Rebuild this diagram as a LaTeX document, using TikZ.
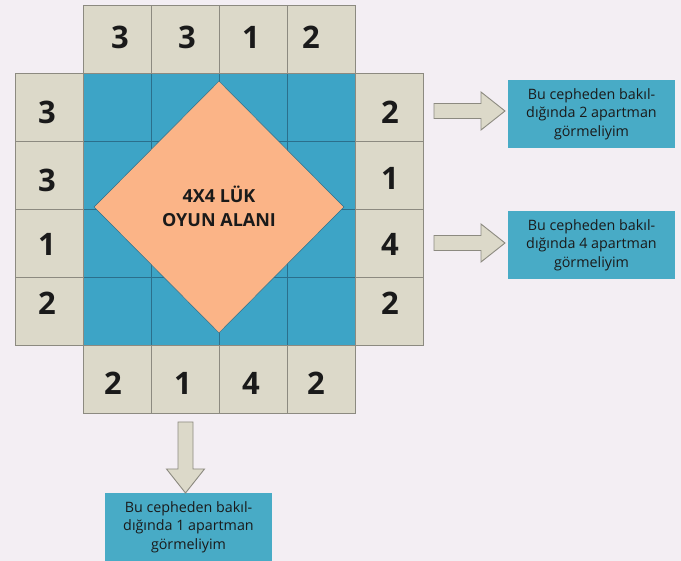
\documentclass[tikz,border=0pt]{standalone}
\usepackage{fontspec}
\setmainfont{Open Sans}
\usetikzlibrary{shapes.geometric}
\definecolor{bg}{HTML}{F3EEF3}
\definecolor{beige}{HTML}{DCD9C9}
\definecolor{cellline}{HTML}{8C8A80}
\definecolor{bluecell}{HTML}{3DA4C6}
\definecolor{blueline}{HTML}{2B6F8C}
\definecolor{peach}{HTML}{FBB487}
\definecolor{boxblue}{HTML}{48ABC6}
\definecolor{ink}{HTML}{1A1A1A}
\tikzset{
  numcell/.style={draw=cellline, fill=beige, line width=0.9pt, minimum size=68pt, inner sep=0pt},
  digit/.style={font=\fontsize{31}{33}\selectfont\bfseries, text=ink, inner sep=0pt},
  bcell/.style={draw=blueline, fill=bluecell, line width=0.7pt, minimum size=68pt, inner sep=0pt},
  infobox/.style={fill=boxblue, minimum width=167pt, minimum height=68pt, inner sep=0pt, align=center,
    font=\fontsize{14.3}{18.5}\selectfont, text=ink},
  fatarrowstyle/.style={draw=cellline, fill=beige, line width=0.9pt, line join=miter},
  pics/fatarrow/.style={code={
    \draw[fatarrowstyle] (0,-7.5) -- (47,-7.5) -- (47,-19) -- (71,0) -- (47,19) -- (47,7.5) -- (0,7.5) -- cycle;}}
}
\begin{document}
\begin{tikzpicture}[x=1pt,y=-1pt]
\fill[bg] (0,0) rectangle (681,561);
\useasboundingbox (0,0) rectangle (681,561);
% blue cells
\foreach \i in {1,...,4}{
  \foreach \j in {1,...,4}{
    \node[bcell] (b\i\j) at ({15+68*\i+34},{5+68*\j+34}) {};
  }
}
% diamond
\node[diamond, draw=blueline, line width=0.5pt, fill=peach, minimum width=250pt, minimum height=252pt, inner sep=0pt] (field) at (219,207) {};
\node[font=\fontsize{18}{24}\selectfont\bfseries, text=ink, align=center] (title) at (219,206) {4X4 LÜK\\OYUN ALANI};
% top row
\foreach \v/\dx/\dy [count=\i] in {3/3/-2,3/2/-2,1/-2/-2,2/-10/-2}{
  \node[numcell] (t\i) at ({15+68*\i+34},39) {};
  \node[digit] (tn\i) at ([xshift=\dx pt,yshift=-\dy pt]t\i.center) {\v};
}
% bottom row
\foreach \v/\dx/\dy [count=\i] in {2/-4/4,1/-2/4,4/-2/4,2/-5/4}{
  \node[numcell] (d\i) at ({15+68*\i+34},{5+68*5+34}) {};
  \node[digit] (dn\i) at ([xshift=\dx pt,yshift=-\dy pt]d\i.center) {\v};
}
% left column
\foreach \v/\dy [count=\j] in {3/5,3/5,1/1,2/-8}{
  \node[numcell] (l\j) at (49,{5+68*\j+34}) {};
  \node[digit] (ln\j) at ([xshift=-2pt,yshift=-\dy pt]l\j.center) {\v};
}
% right column
\foreach \v/\dy [count=\j] in {2/5,1/3,4/1,2/-8}{
  \node[numcell] (r\j) at ({15+68*5+34},{5+68*\j+34}) {};
  \node[digit] (rn\j) at ([xshift=1pt,yshift=-\dy pt]r\j.center) {\v};
}
% info boxes
\node[infobox] (box1) at (591.5,114) {Bu cepheden bakıl-\\dığında 2 apartman\\görmeliyim};
\node[infobox] (box2) at (591.5,245) {Bu cepheden bakıl-\\dığında 4 apartman\\görmeliyim};
\node[infobox] (box3) at (188.5,527) {Bu cepheden bakıl-\\dığında 1 apartman\\görmeliyim};
% arrows
\coordinate (a1) at (434,111);
\coordinate (a2) at (434,243);
\coordinate (a3) at (185.5,422);
\pic at (a1) {fatarrow};
\pic at (a2) {fatarrow};
\pic[rotate=-90] at (a3) {fatarrow};
\end{tikzpicture}
\end{document}
